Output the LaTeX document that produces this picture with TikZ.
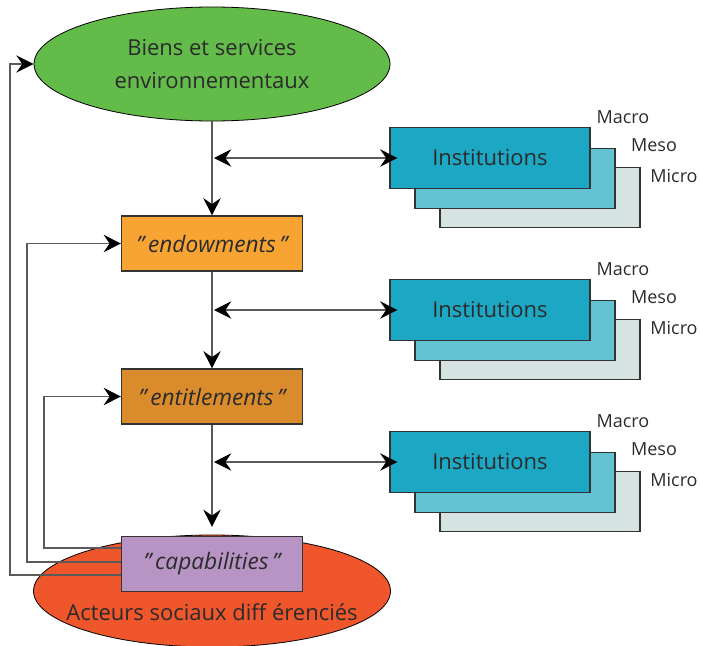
\documentclass[tikz,border=0pt]{standalone}
\usepackage{fontspec}
\setmainfont{Open Sans}
\usepackage{xcolor}
\usepackage{tikz}
\usetikzlibrary{arrows.meta}
\usetikzlibrary{calc}
\usetikzlibrary{shapes}
\usetikzlibrary{positioning}
\definecolor{biensgreen}{HTML}{63BC49}
\definecolor{endoworange}{HTML}{F7A433}
\definecolor{entitleorange}{HTML}{DA8C2C}
\definecolor{capapurple}{HTML}{B894C5}
\definecolor{acteursred}{HTML}{EF562C}
\definecolor{macroblue}{HTML}{1CA7C4}
\definecolor{mesoblue}{HTML}{63C3D3}
\definecolor{microgray}{HTML}{D6E3E3}
\definecolor{inktext}{HTML}{2B2B2B}
\definecolor{linkgray}{HTML}{5A5A5A}
\definecolor{boxline}{HTML}{333333}
\tikzset{>={Stealth[length=13pt,width=13pt,inset=4.5pt,color=black]}}
\tikzset{link/.style={draw=linkgray, line width=1pt}}
\tikzset{stage/.style={draw=boxline, line width=0.8pt, inner sep=0pt, minimum width=135.75pt, minimum height=41.25pt, text=inktext, font=\fontsize{17}{20}\selectfont\itshape}}
\tikzset{lvl/.style={draw=boxline, line width=0.8pt, inner sep=0pt, minimum width=150pt, minimum height=45.5pt, text=inktext, font=\fontsize{16.5}{20}\selectfont}}
\tikzset{lvltext/.style={text=inktext, inner sep=0pt, font=\fontsize{13.5}{16}\selectfont}}
\tikzset{blob/.style={ellipse, draw=black, line width=0.6pt, inner sep=0pt, text=inktext, font=\fontsize{16.5}{24.75}\selectfont}}

\begin{document}
\begin{tikzpicture}[x=0.75pt, y=-0.75pt]
        \useasboundingbox (0,0) rectangle (701,646);

        % Nodes
        \node[blob, fill=biensgreen, minimum width=267pt, minimum height=85.5pt, align=center] (biens) at (212, 64) {Biens et services\\environnementaux};
        \node[stage, fill=endoworange] (endow) at (212, 243.5) {"\,endowments\,"};
        \node[stage, fill=entitleorange] (entitle) at (212, 396.5) {"\,entitlements\,"};
        \node[blob, fill=acteursred, minimum width=267.75pt, minimum height=84pt] (acteurs) at (212, 591) {};
        \node[text=inktext, font=\fontsize{16.5}{20}\selectfont] (acteurstxt) at (212, 612) {Acteurs sociaux diff érenciés};
        \node[stage, fill=capapurple] (capab) at (212, 564) {"\,capabilities\,"};

        % Institutions, three levels each
        \foreach \i in {0,1,2} {
            \node[lvl, fill=microgray] (micro\i) at (540, {197.5+152*\i}) {};
            \node[lvl, fill=mesoblue] (meso\i) at (515, {178.5+152*\i}) {};
            \node[lvl, fill=macroblue] (inst\i) at (490, {158+152*\i}) {Institutions};
            \node[lvltext] (macrolab\i) at (623, {117+152*\i}) {Macro};
            \node[lvltext] (mesolab\i) at (654, {145+152*\i}) {Meso};
            \node[lvltext] (microlab\i) at (674, {176+152*\i}) {Micro};
            \coordinate (hub\i) at (214, {158+152*\i});
            \draw[link, <->, shorten >=-6pt] (hub\i) -- (inst\i);
        }

        % Arrows down the chain
        \draw[link, ->] (biens) -- (endow);
        \draw[link, ->] (endow) -- (entitle);
        \draw[link, ->, shorten >=6.75pt] (entitle) -- (capab);

        % Feedback from capabilities
        \draw[link, ->] ($(capab.west)+(0,-16)$) -- ++(-77,0) |- (entitle.west);
        \draw[link, ->] ($(capab.west)+(0,-2)$) -- ++(-94,0) |- (endow.west);
        \draw[link, ->] ($(capab.west)+(0,11)$) -- ++(-111,0) |- (biens.west);
\end{tikzpicture}
\end{document}
